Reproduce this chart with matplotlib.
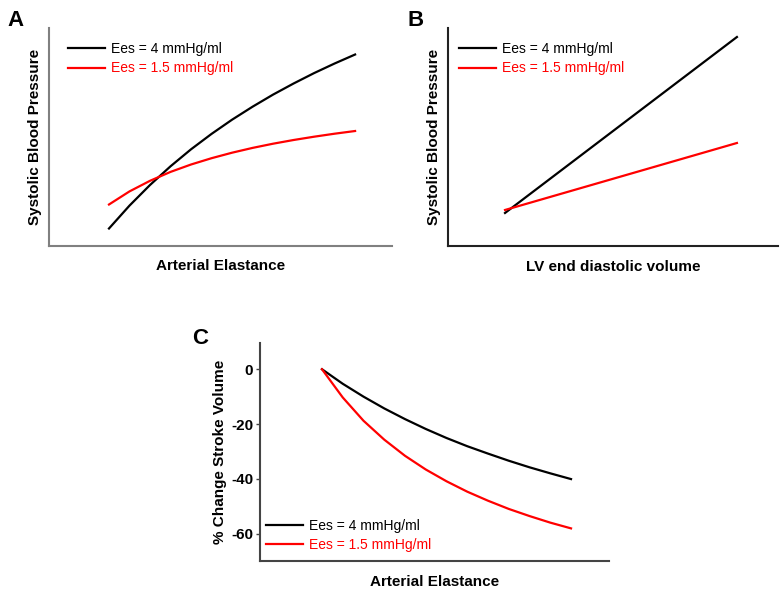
import matplotlib
matplotlib.use('Agg')
import matplotlib.pyplot as plt

plt.rcParams['font.family'] = ['Liberation Sans', 'DejaVu Sans']

# arterial elastance (arbitrary units) used in panels A and C
elastance = [0.6, 0.8, 1.0, 1.2, 1.4, 1.6, 1.8, 2.0, 2.2, 2.4, 2.6, 2.8, 3.0]

# panel A - systolic blood pressure (arbitrary units)
sbp_a_high = [17.0, 39.9, 60.5, 79.2, 96.2, 111.6, 125.8, 138.8, 150.9, 162.0, 172.4, 182.0, 191.0]
sbp_a_low = [41.0, 54.1, 64.7, 73.6, 81.0, 87.3, 92.8, 97.6, 101.8, 105.5, 108.8, 111.8, 114.5]

# panel B - LV end diastolic volume vs systolic pressure (arbitrary units)
edv = [100, 120, 140, 160, 180, 200]
sbp_b_high = [33.0, 68.2, 103.4, 138.6, 173.8, 209.0]
sbp_b_low = [36.0, 49.4, 62.8, 76.2, 89.6, 103.0]

# panel C - % change in stroke volume
sv_high = [0, -5.3, -10.0, -14.3, -18.2, -21.8, -25.1, -28.1, -30.8, -33.4, -35.8, -38.0, -40.1]
sv_low = [0, -10.3, -18.8, -25.7, -31.6, -36.6, -40.9, -44.7, -48.0, -51.0, -53.6, -56.0, -58.1]
sv_ticks = [0, -20, -40, -60]

labels = ['Ees = 4 mmHg/ml', 'Ees = 1.5 mmHg/ml']
colors = ['black', '#ff0000']

fig = plt.figure(figsize=(7.84, 5.91), dpi=100)

axA = fig.add_axes([0.0625, 0.5846, 0.4375, 0.368])
axB = fig.add_axes([0.5714, 0.5838, 0.4209, 0.3688])
axC = fig.add_axes([0.3316, 0.0508, 0.4452, 0.3689])


def style(ax, spine_color):
	for s in ['top', 'right']:
		ax.spines[s].set_visible(False)
	for s in ['left', 'bottom']:
		ax.spines[s].set_color(spine_color)
		ax.spines[s].set_linewidth(1.5)


def add_legend(ax, loc, anchor):
	leg = ax.legend(loc=loc, bbox_to_anchor=anchor, frameon=False, fontsize=10,
		handlelength=2.7, handletextpad=0.4, labelspacing=0.38,
		borderpad=0, borderaxespad=0, labelcolor='linecolor')
	return leg


# ---- A
axA.plot(elastance, sbp_a_high, color=colors[0], lw=1.6, label=labels[0])
axA.plot(elastance, sbp_a_low, color=colors[1], lw=1.6, label=labels[1])
axA.set_xlim(0.015, 3.36)
axA.set_ylim(0, 217.5)
axA.set_xticks([])
axA.set_yticks([])
style(axA, '#808080')
axA.set_xlabel('Arterial Elastance', fontsize=11, fontweight='bold', labelpad=10)
axA.set_ylabel('Systolic Blood Pressure', fontsize=11, fontweight='bold', labelpad=5)
add_legend(axA, 'upper left', (0.055, 0.935))
fig.text(0.01, 0.956, 'A', fontsize=16, fontweight='bold')

# ---- B
axB.plot(edv, sbp_b_high, color=colors[0], lw=1.6, label=labels[0])
axB.plot(edv, sbp_b_low, color=colors[1], lw=1.6, label=labels[1])
axB.set_xlim(75.4, 217.7)
axB.set_ylim(0, 218)
axB.set_xticks([])
axB.set_yticks([])
style(axB, '#222222')
axB.set_xlabel('LV end diastolic volume', fontsize=11, fontweight='bold', labelpad=10)
axB.set_ylabel('Systolic Blood Pressure', fontsize=11, fontweight='bold', labelpad=5)
add_legend(axB, 'upper left', (0.033, 0.935))
fig.text(0.52, 0.956, 'B', fontsize=16, fontweight='bold')

# ---- C
axC.plot(elastance, sv_high, color=colors[0], lw=1.6, label=labels[0])
axC.plot(elastance, sv_low, color=colors[1], lw=1.6, label=labels[1])
axC.set_xlim(0.0024, 3.366)
axC.set_ylim(-70, 9.6)
axC.set_xticks([])
axC.set_yticks(sv_ticks)
axC.set_yticklabels([str(t) for t in sv_ticks], fontsize=11, fontweight='bold')
axC.tick_params(axis='y', length=3, width=1, color='#444444', pad=2)
style(axC, '#444444')
axC.set_xlabel('Arterial Elastance', fontsize=11, fontweight='bold', labelpad=10)
axC.set_ylabel('% Change Stroke Volume', fontsize=11, fontweight='bold', labelpad=3)
add_legend(axC, 'lower left', (0.017, 0.04))
fig.text(0.245, 0.418, 'C', fontsize=16, fontweight='bold')

fig.savefig('out.png', dpi=100)
